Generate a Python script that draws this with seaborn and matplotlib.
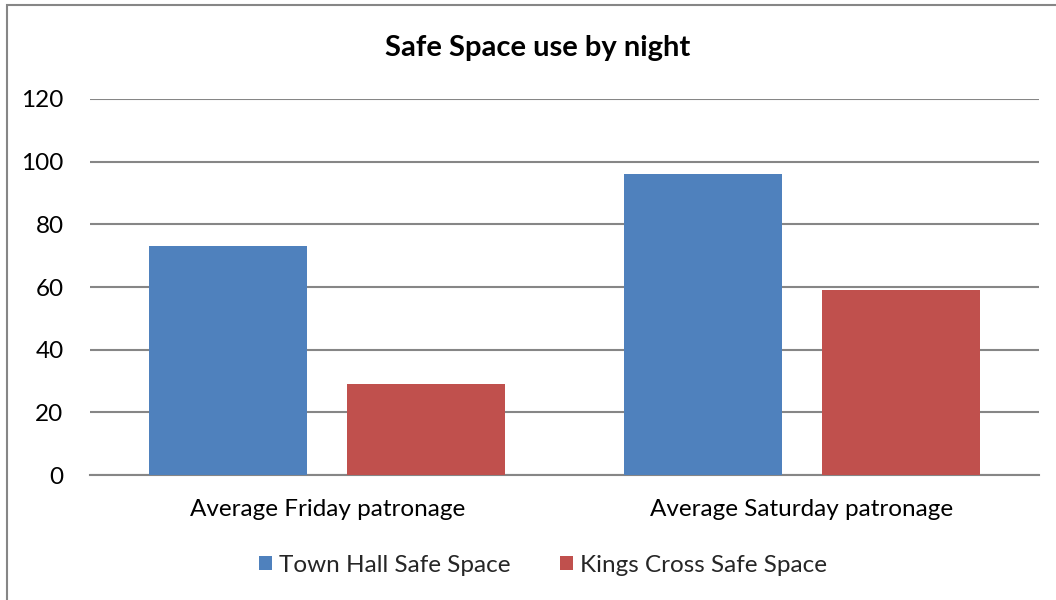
import matplotlib
matplotlib.use("Agg")
import matplotlib.pyplot as plt
import seaborn as sns
import pandas as pd
from matplotlib.patches import Rectangle, Patch

categories = ["Average Friday patronage", "Average Saturday patronage"]
series_names = ["Town Hall Safe Space", "Kings Cross Safe Space"]
town_hall = [73, 96]
kings_cross = [29, 59]
yticks = [0, 20, 40, 60, 80, 100, 120]

colors = ["#4F81BD", "#C0504D"]

df = pd.DataFrame({
    "category": categories * 2,
    "series": [series_names[0]] * 2 + [series_names[1]] * 2,
    "value": town_hall + kings_cross,
})

sns.set_theme(style="white")
plt.rcParams["font.family"] = ["Lato", "DejaVu Sans"]

fig = plt.figure(figsize=(10.56, 6.0), dpi=100)
ax = fig.add_axes([90 / 1056, (600 - 475) / 600, (1039 - 90) / 1056, (475 - 99) / 600])

sns.barplot(data=df, x="category", y="value", hue="series", palette=colors,
            width=0.834, gap=0.2, ax=ax, legend=False, saturation=1,
            linewidth=0, zorder=3)

ax.set_ylim(0, 120)
ax.set_xlim(-0.5, 1.5)
ax.set_yticks(yticks)
ax.set_yticklabels([str(v) for v in yticks])
ax.yaxis.grid(True, color="#868686", linewidth=1.5, zorder=0)
ax.set_axisbelow(True)
for s in ["left", "right", "top"]:
    ax.spines[s].set_visible(False)
ax.spines["bottom"].set_color("#868686")
ax.spines["bottom"].set_linewidth(1.5)
ax.tick_params(axis="y", length=0, pad=19, labelsize=17.5, labelcolor="black")
ax.tick_params(axis="x", length=0, pad=17, labelsize=17.5, labelcolor="black")
ax.set_xlabel("")
ax.set_ylabel("")

fig.text(538 / 1056, 1 - 48 / 600, "Safe Space use by night", ha="center", va="center",
         fontsize=21, fontweight="bold", color="black")

handles = [Patch(facecolor=c, edgecolor="none") for c in colors]
fig.legend(handles, series_names, loc="center", bbox_to_anchor=(543 / 1056, 1 - 565 / 600),
           ncol=2, frameon=False, fontsize=17.5, handlelength=0.55, handleheight=0.55,
           handletextpad=0.3, columnspacing=2.0)

fig.patches.append(Rectangle((7 / 1056, -0.1), 1.2, 1 - 5 / 600 + 0.1, transform=fig.transFigure,
                             fill=False, edgecolor="#868686", linewidth=1.5, zorder=10))

fig.savefig("out.png", dpi=100)
